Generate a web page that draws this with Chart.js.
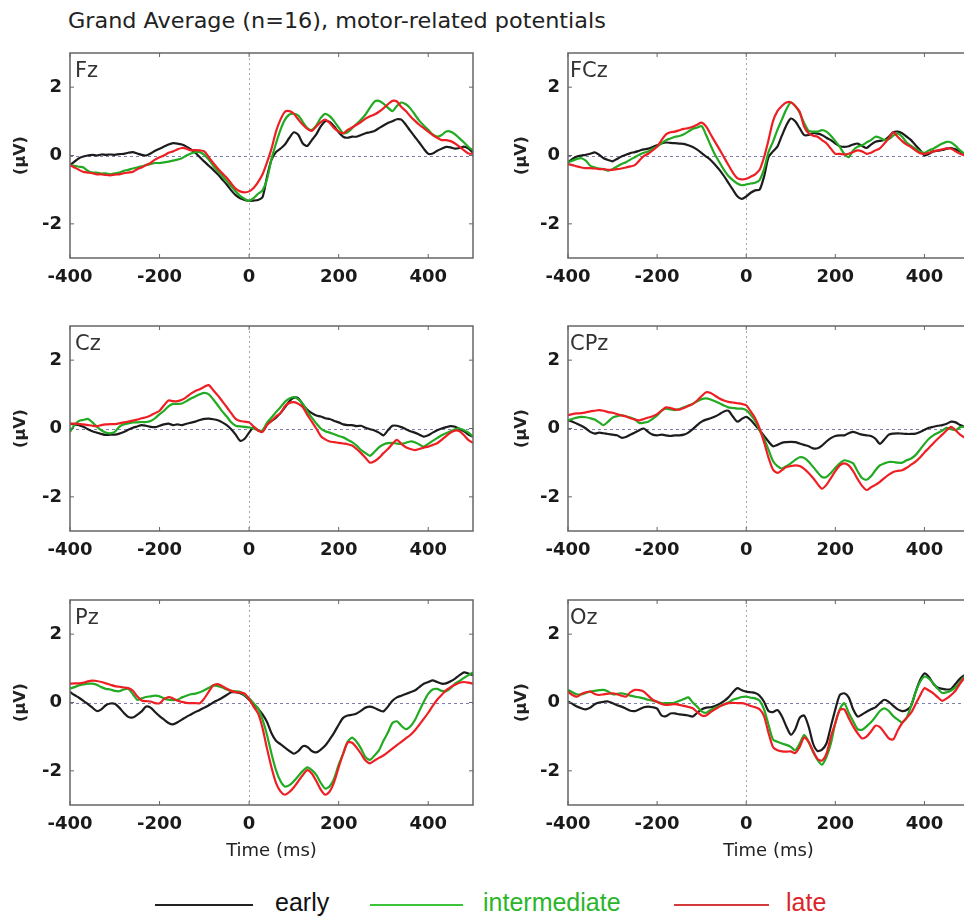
<!DOCTYPE html>
<html>
<head>
<meta charset="utf-8">
<title>Grand Average (n=16), motor-related potentials</title>
<script src="https://cdn.jsdelivr.net/npm/chart.js@4.4.1/dist/chart.umd.min.js"></script>
<style>
  html, body { margin:0; padding:0; background:#fff; }
  body { position:relative; width:964px; height:917px; overflow:hidden; font-family:"DejaVu Sans", sans-serif; }
  #title { position:absolute; left:68px; top:11px; font-size:21px; line-height:21px; color:#222; white-space:nowrap; transform:scaleX(1.063); transform-origin:0 0; }
  canvas { position:absolute; }
  .lg-line { position:absolute; height:0; border-top:2px solid; top:904px; }
  .lg-text { position:absolute; top:890px; font-family:"Liberation Sans", Arial, sans-serif; font-size:25px; line-height:25px; white-space:nowrap; }
</style>
</head>
<body>
<div id="title">Grand Average (n=16), motor-related potentials</div>
<canvas id="p0"></canvas>
<canvas id="p1"></canvas>
<canvas id="p2"></canvas>
<canvas id="p3"></canvas>
<canvas id="p4"></canvas>
<canvas id="p5"></canvas>
<div class="lg-line" style="left:155px;width:98px;border-color:#222"></div>
<div class="lg-text" style="left:275px;color:#111">early</div>
<div class="lg-line" style="left:370px;width:93px;border-color:#3cc43c"></div>
<div class="lg-text" style="left:483px;color:#2ab52a">intermediate</div>
<div class="lg-line" style="left:674px;width:95px;border-color:#d43a3a"></div>
<div class="lg-text" style="left:786px;color:#d9262b">late</div>
<script>
// ---- time axis (ms) ----
const times = [
  -400,-390,-380,-370,-360,-350,-340,-330,-320,-310,
  -300,-290,-280,-270,-260,-250,-240,-230,-220,-210,
  -200,-190,-180,-170,-160,-150,-140,-130,-120,-110,
  -100,-90,-80,-70,-60,-50,-40,-30,-20,-10,
  0,10,20,30,40,50,60,70,80,90,
  100,110,120,130,140,150,160,170,180,190,
  200,210,220,230,240,250,260,270,280,290,
  300,310,320,330,340,350,360,370,380,390,
  400,410,420,430,440,450,460,470,480,490,
  500
];
const xTicks = [-400, -200, 0, 200, 400];
const yTicks = [-2, 0, 2];
const channels = ['Fz', 'FCz', 'Cz', 'CPz', 'Pz', 'Oz'];
const seriesNames = ['early', 'intermediate', 'late'];

// ---- Fz ----
const fzEarly = [
  -0.28,-0.18,-0.08,-0.03,0.0,0.02,0.0,0.03,0.02,0.03,
  0.02,0.04,0.05,0.08,0.1,0.06,0.02,0.0,0.06,0.14,
  0.2,0.26,0.32,0.36,0.35,0.32,0.26,0.18,0.08,-0.05,
  -0.18,-0.3,-0.42,-0.55,-0.7,-0.85,-1.02,-1.16,-1.25,-1.3,
  -1.33,-1.32,-1.3,-1.22,-0.62,-0.12,0.1,0.2,0.32,0.52,
  0.68,0.6,0.35,0.28,0.45,0.62,0.85,1.0,0.98,0.85,
  0.68,0.55,0.52,0.55,0.55,0.6,0.65,0.68,0.72,0.8,
  0.88,0.95,1.0,1.06,1.05,0.9,0.72,0.55,0.38,0.2,
  0.05,0.06,0.14,0.2,0.25,0.24,0.2,0.22,0.26,0.2,
  0.08
];
const fzInter = [
  -0.28,-0.3,-0.33,-0.35,-0.45,-0.5,-0.5,-0.53,-0.52,-0.55,
  -0.52,-0.5,-0.45,-0.42,-0.38,-0.35,-0.32,-0.28,-0.25,-0.22,
  -0.22,-0.2,-0.18,-0.15,-0.12,-0.08,0.0,0.06,0.1,0.1,
  0.02,-0.12,-0.3,-0.45,-0.6,-0.75,-0.9,-1.05,-1.18,-1.27,
  -1.33,-1.25,-1.12,-1.02,-0.7,-0.1,0.35,0.75,1.05,1.2,
  1.22,1.17,0.98,0.8,0.75,0.88,1.1,1.22,1.15,1.0,
  0.82,0.65,0.68,0.8,0.92,1.05,1.2,1.4,1.58,1.6,
  1.52,1.4,1.3,1.45,1.55,1.5,1.38,1.2,1.02,0.88,
  0.75,0.62,0.55,0.6,0.7,0.7,0.62,0.5,0.38,0.25,
  0.15
];
const fzLate = [
  -0.28,-0.35,-0.42,-0.48,-0.5,-0.52,-0.55,-0.55,-0.57,-0.58,
  -0.56,-0.55,-0.52,-0.5,-0.48,-0.4,-0.35,-0.28,-0.22,-0.12,
  -0.05,0.0,0.08,0.12,0.18,0.22,0.2,0.15,0.16,0.15,
  0.12,-0.05,-0.22,-0.38,-0.52,-0.65,-0.82,-0.97,-1.05,-1.08,
  -1.05,-0.95,-0.78,-0.55,-0.2,0.2,0.7,1.05,1.28,1.3,
  1.22,1.05,0.9,0.78,0.72,0.85,0.98,1.05,0.95,0.8,
  0.7,0.65,0.75,0.82,0.9,0.98,1.08,1.15,1.2,1.28,
  1.38,1.5,1.6,1.58,1.42,1.3,1.15,1.02,0.9,0.8,
  0.7,0.6,0.52,0.45,0.45,0.42,0.35,0.25,0.15,0.06,
  0.05
];

// ---- FCz ----
const fczEarly = [
  -0.2,-0.1,-0.03,0.0,0.02,0.05,0.09,0.02,-0.08,-0.13,
  -0.17,-0.1,-0.03,0.02,0.07,0.1,0.14,0.18,0.2,0.25,
  0.3,0.35,0.38,0.37,0.36,0.35,0.34,0.3,0.25,0.17,
  0.07,-0.03,-0.13,-0.27,-0.42,-0.6,-0.8,-1.0,-1.19,-1.27,
  -1.2,-1.09,-1.02,-1.0,-0.62,-0.05,0.12,0.26,0.58,0.88,
  1.08,1.0,0.8,0.6,0.6,0.65,0.64,0.6,0.52,0.45,
  0.35,0.27,0.25,0.27,0.32,0.35,0.28,0.22,0.32,0.4,
  0.43,0.45,0.55,0.68,0.7,0.65,0.55,0.45,0.3,0.16,
  0.0,0.05,0.12,0.14,0.16,0.2,0.22,0.18,0.12,0.05,
  0.0
];
const fczInter = [
  -0.2,-0.15,-0.1,-0.08,-0.15,-0.3,-0.35,-0.38,-0.4,-0.44,
  -0.4,-0.32,-0.25,-0.2,-0.12,-0.05,0.02,0.08,0.12,0.2,
  0.26,0.36,0.45,0.5,0.55,0.57,0.62,0.7,0.78,0.82,
  0.86,0.6,0.3,0.02,-0.2,-0.42,-0.6,-0.72,-0.82,-0.87,
  -0.85,-0.82,-0.8,-0.72,-0.4,0.1,0.4,0.75,1.05,1.35,
  1.55,1.45,1.25,0.95,0.72,0.7,0.7,0.74,0.7,0.58,
  0.42,0.25,0.05,-0.05,0.15,0.26,0.3,0.38,0.45,0.55,
  0.52,0.45,0.48,0.58,0.65,0.55,0.38,0.28,0.2,0.12,
  0.08,0.15,0.2,0.28,0.35,0.4,0.38,0.28,0.15,0.05,
  0.0
];
const fczLate = [
  -0.25,-0.28,-0.32,-0.35,-0.37,-0.37,-0.38,-0.4,-0.4,-0.42,
  -0.42,-0.4,-0.38,-0.35,-0.32,-0.28,-0.15,-0.02,0.05,0.15,
  0.26,0.45,0.62,0.68,0.7,0.74,0.78,0.8,0.84,0.9,
  0.96,0.85,0.62,0.4,0.18,-0.05,-0.28,-0.5,-0.66,-0.7,
  -0.68,-0.62,-0.55,-0.42,-0.05,0.45,1.0,1.3,1.45,1.55,
  1.56,1.45,1.28,0.85,0.65,0.58,0.55,0.45,0.36,0.2,
  0.05,0.05,0.03,0.05,0.1,0.15,0.12,0.05,0.08,0.15,
  0.21,0.35,0.5,0.68,0.55,0.42,0.32,0.25,0.15,0.07,
  0.05,0.08,0.12,0.15,0.18,0.21,0.2,0.12,0.05,0.0,
  -0.02
];

// ---- Cz ----
const czEarly = [
  0.14,0.12,0.1,0.05,-0.02,-0.08,-0.12,-0.16,-0.19,-0.18,
  -0.18,-0.15,-0.1,-0.04,0.02,0.06,0.1,0.08,0.05,0.04,
  0.08,0.12,0.14,0.1,0.12,0.1,0.14,0.17,0.2,0.25,
  0.28,0.29,0.27,0.24,0.18,0.1,-0.02,-0.18,-0.36,-0.3,
  -0.12,0.04,-0.05,-0.08,0.12,0.22,0.32,0.45,0.62,0.8,
  0.9,0.88,0.7,0.55,0.45,0.38,0.35,0.3,0.28,0.22,
  0.18,0.12,0.1,0.1,0.07,0.08,0.02,-0.02,-0.06,-0.12,
  -0.2,-0.05,0.08,0.08,0.04,-0.02,-0.08,-0.12,-0.18,-0.24,
  -0.2,-0.12,-0.05,0.0,0.04,0.07,0.05,-0.02,-0.08,-0.18,
  -0.24
];
const czInter = [
  -0.1,0.1,0.22,0.25,0.28,0.18,0.05,-0.05,-0.12,-0.14,
  -0.1,0.05,0.12,0.15,0.18,0.18,0.19,0.19,0.22,0.3,
  0.42,0.52,0.65,0.72,0.72,0.73,0.8,0.88,0.94,1.0,
  1.04,1.0,0.85,0.68,0.5,0.35,0.18,0.08,0.06,0.05,
  0.03,0.0,-0.06,-0.05,0.17,0.32,0.48,0.62,0.78,0.88,
  0.92,0.85,0.72,0.5,0.32,0.15,0.0,-0.08,-0.12,-0.17,
  -0.22,-0.26,-0.33,-0.4,-0.5,-0.63,-0.72,-0.8,-0.68,-0.55,
  -0.47,-0.43,-0.42,-0.44,-0.45,-0.42,-0.38,-0.4,-0.47,-0.53,
  -0.45,-0.36,-0.28,-0.2,-0.14,-0.08,-0.02,0.0,-0.05,-0.12,
  -0.24
];
const czLate = [
  0.14,0.14,0.13,0.12,0.1,0.08,0.07,0.1,0.12,0.13,
  0.13,0.15,0.18,0.2,0.23,0.26,0.3,0.33,0.38,0.45,
  0.52,0.68,0.82,0.8,0.8,0.84,0.92,1.02,1.1,1.15,
  1.22,1.27,1.12,0.97,0.8,0.63,0.45,0.28,0.22,0.2,
  0.18,0.06,-0.06,-0.1,0.1,0.22,0.35,0.45,0.65,0.75,
  0.77,0.72,0.62,0.4,0.2,0.0,-0.22,-0.32,-0.38,-0.4,
  -0.42,-0.44,-0.46,-0.5,-0.6,-0.72,-0.86,-1.0,-0.96,-0.86,
  -0.72,-0.6,-0.45,-0.33,-0.45,-0.55,-0.6,-0.63,-0.6,-0.56,
  -0.53,-0.48,-0.43,-0.33,-0.22,-0.12,-0.06,-0.08,-0.2,-0.34,
  -0.42
];

// ---- CPz ----
const cpzEarly = [
  0.24,0.2,0.14,0.08,0.0,-0.1,-0.15,-0.12,-0.14,-0.16,
  -0.18,-0.2,-0.27,-0.25,-0.18,-0.12,-0.05,0.0,-0.1,-0.18,
  -0.2,-0.18,-0.2,-0.22,-0.2,-0.2,-0.18,-0.12,-0.02,0.1,
  0.2,0.26,0.3,0.35,0.42,0.5,0.52,0.35,0.2,0.28,
  0.34,0.25,0.1,-0.05,-0.22,-0.38,-0.52,-0.48,-0.42,-0.4,
  -0.39,-0.4,-0.44,-0.48,-0.52,-0.58,-0.58,-0.5,-0.38,-0.28,
  -0.22,-0.2,-0.2,-0.14,-0.1,-0.14,-0.18,-0.2,-0.22,-0.3,
  -0.45,-0.32,-0.18,-0.15,-0.14,-0.15,-0.16,-0.16,-0.15,-0.1,
  -0.04,0.02,0.05,0.08,0.1,0.14,0.2,0.18,0.1,0.05,
  0.02
];
const cpzInter = [
  0.24,0.28,0.32,0.34,0.33,0.3,0.26,0.18,0.1,0.2,
  0.32,0.36,0.39,0.36,0.32,0.27,0.16,0.17,0.2,0.28,
  0.38,0.52,0.58,0.56,0.54,0.57,0.62,0.67,0.72,0.8,
  0.86,0.88,0.85,0.8,0.74,0.67,0.62,0.6,0.58,0.58,
  0.54,0.4,0.22,-0.05,-0.3,-0.62,-0.95,-1.1,-1.17,-1.1,
  -1.02,-0.92,-0.84,-0.86,-0.97,-1.12,-1.28,-1.42,-1.42,-1.3,
  -1.15,-1.02,-0.93,-0.96,-1.02,-1.25,-1.45,-1.5,-1.4,-1.22,
  -1.08,-1.02,-0.98,-0.98,-1.0,-1.0,-0.93,-0.88,-0.78,-0.62,
  -0.45,-0.3,-0.2,-0.13,-0.06,0.02,-0.02,-0.05,0.04,0.05,
  0.02
];
const cpzLate = [
  0.39,0.42,0.44,0.45,0.47,0.5,0.52,0.54,0.52,0.48,
  0.46,0.42,0.38,0.35,0.3,0.26,0.24,0.28,0.32,0.36,
  0.42,0.52,0.62,0.6,0.56,0.55,0.6,0.66,0.72,0.82,
  0.95,1.06,1.04,0.96,0.88,0.82,0.78,0.76,0.74,0.72,
  0.68,0.5,0.3,0.0,-0.4,-0.85,-1.2,-1.3,-1.22,-1.13,
  -1.1,-1.08,-1.1,-1.18,-1.3,-1.45,-1.62,-1.76,-1.65,-1.45,
  -1.25,-1.08,-1.02,-1.08,-1.25,-1.48,-1.68,-1.8,-1.72,-1.65,
  -1.56,-1.45,-1.35,-1.27,-1.24,-1.22,-1.15,-1.06,-0.97,-0.85,
  -0.7,-0.57,-0.43,-0.3,-0.18,-0.05,0.05,-0.05,-0.18,-0.26,
  -0.3
];

// ---- Pz ----
const pzEarly = [
  0.31,0.22,0.14,0.05,-0.05,-0.15,-0.25,-0.2,-0.08,-0.03,
  -0.04,-0.15,-0.3,-0.42,-0.44,-0.36,-0.26,-0.12,-0.15,-0.28,
  -0.4,-0.5,-0.6,-0.64,-0.58,-0.5,-0.42,-0.35,-0.28,-0.22,
  -0.15,-0.08,0.0,0.07,0.14,0.22,0.3,0.3,0.27,0.2,
  0.08,-0.05,-0.18,-0.35,-0.57,-0.9,-1.12,-1.22,-1.32,-1.42,
  -1.5,-1.42,-1.28,-1.3,-1.42,-1.46,-1.38,-1.26,-1.08,-0.88,
  -0.65,-0.45,-0.38,-0.36,-0.32,-0.24,-0.15,-0.12,-0.16,-0.22,
  -0.26,-0.12,0.05,0.15,0.2,0.25,0.3,0.35,0.45,0.55,
  0.6,0.65,0.6,0.55,0.56,0.62,0.7,0.8,0.88,0.85,
  0.8
];
const pzInter = [
  0.41,0.45,0.5,0.53,0.55,0.55,0.52,0.45,0.4,0.38,
  0.34,0.33,0.38,0.4,0.25,0.08,0.12,0.16,0.18,0.2,
  0.18,0.12,0.08,0.07,0.08,0.15,0.2,0.24,0.26,0.3,
  0.36,0.43,0.5,0.48,0.44,0.38,0.34,0.33,0.31,0.22,
  0.12,-0.02,-0.18,-0.5,-0.95,-1.5,-1.98,-2.3,-2.46,-2.42,
  -2.3,-2.15,-2.0,-1.9,-1.98,-2.12,-2.35,-2.52,-2.45,-2.22,
  -1.82,-1.5,-1.15,-1.03,-1.15,-1.35,-1.6,-1.68,-1.55,-1.4,
  -1.12,-0.88,-0.6,-0.55,-0.68,-0.78,-0.7,-0.52,-0.25,0.02,
  0.25,0.38,0.4,0.34,0.33,0.42,0.55,0.63,0.72,0.8,
  0.88
];
const pzLate = [
  0.55,0.56,0.56,0.58,0.62,0.64,0.63,0.6,0.56,0.52,
  0.48,0.46,0.44,0.42,0.35,0.18,0.06,0.04,0.03,-0.02,
  -0.02,0.1,0.16,0.12,0.05,0.02,-0.01,-0.02,-0.02,-0.02,
  0.12,0.32,0.5,0.54,0.48,0.4,0.34,0.3,0.29,0.26,
  0.1,-0.12,-0.32,-0.75,-1.35,-1.9,-2.35,-2.6,-2.7,-2.62,
  -2.48,-2.3,-2.12,-1.98,-2.08,-2.3,-2.55,-2.7,-2.6,-2.32,
  -1.9,-1.5,-1.17,-1.18,-1.32,-1.5,-1.7,-1.78,-1.7,-1.62,
  -1.55,-1.45,-1.35,-1.25,-1.15,-1.05,-0.95,-0.82,-0.65,-0.48,
  -0.3,-0.1,0.08,0.22,0.36,0.45,0.52,0.58,0.6,0.58,
  0.55
];

// ---- Oz ----
const ozEarly = [
  0.03,-0.04,-0.12,-0.17,-0.2,-0.15,-0.05,0.0,0.02,0.03,
  -0.02,-0.08,-0.12,-0.18,-0.24,-0.25,-0.2,-0.14,-0.12,-0.14,
  -0.18,-0.38,-0.4,-0.32,-0.32,-0.35,-0.36,-0.38,-0.41,-0.3,
  -0.2,-0.15,-0.14,-0.1,-0.04,0.04,0.15,0.3,0.42,0.36,
  0.32,0.3,0.28,0.2,0.02,-0.25,-0.28,-0.22,-0.4,-0.7,
  -0.94,-0.78,-0.45,-0.38,-0.7,-1.2,-1.42,-1.38,-1.2,-0.7,
  -0.2,0.22,0.27,0.15,-0.2,-0.41,-0.35,-0.27,-0.2,-0.14,
  -0.02,0.08,0.02,-0.1,-0.2,-0.25,-0.22,-0.1,0.3,0.65,
  0.85,0.75,0.55,0.43,0.4,0.38,0.4,0.55,0.7,0.8,
  0.85
];
const ozInter = [
  0.37,0.3,0.24,0.24,0.28,0.32,0.34,0.36,0.37,0.32,
  0.24,0.25,0.27,0.24,0.2,0.17,0.15,0.12,0.08,0.05,
  0.02,-0.02,-0.02,-0.02,0.0,0.05,0.1,0.15,0.0,-0.12,
  -0.26,-0.3,-0.22,-0.15,-0.1,-0.06,0.0,0.08,0.12,0.16,
  0.17,0.14,0.12,0.05,-0.2,-0.65,-1.08,-1.15,-1.2,-1.24,
  -1.3,-1.4,-1.2,-0.95,-1.15,-1.45,-1.68,-1.82,-1.6,-1.2,
  -0.6,-0.2,-0.02,-0.3,-0.55,-0.78,-0.8,-0.7,-0.58,-0.42,
  -0.25,-0.17,-0.25,-0.4,-0.5,-0.58,-0.45,-0.1,0.3,0.6,
  0.76,0.7,0.56,0.4,0.28,0.3,0.35,0.45,0.6,0.76,
  0.85
];
const ozLate = [
  0.32,0.22,0.17,0.25,0.3,0.32,0.25,0.22,0.24,0.26,
  0.27,0.24,0.2,0.17,0.3,0.37,0.36,0.32,0.2,0.08,
  0.02,-0.04,-0.07,-0.06,-0.05,-0.07,-0.1,-0.13,-0.17,-0.28,
  -0.38,-0.38,-0.28,-0.2,-0.12,-0.06,-0.02,-0.01,-0.02,-0.02,
  -0.05,-0.1,-0.14,-0.2,-0.4,-0.89,-1.3,-1.4,-1.43,-1.44,
  -1.43,-1.48,-1.3,-1.02,-1.15,-1.42,-1.65,-1.7,-1.5,-1.0,
  -0.6,-0.22,-0.2,-0.45,-0.7,-0.9,-1.05,-1.0,-0.85,-0.68,
  -0.72,-0.88,-1.05,-1.08,-0.82,-0.6,-0.45,-0.3,-0.05,0.2,
  0.42,0.35,0.27,0.15,0.05,0.12,0.22,0.35,0.55,0.72,
  0.8
];

const panelData = [
  [fzEarly, fzInter, fzLate],
  [fczEarly, fczInter, fczLate],
  [czEarly, czInter, czLate],
  [cpzEarly, cpzInter, cpzLate],
  [pzEarly, pzInter, pzLate],
  [ozEarly, ozInter, ozLate]
];

// ---- styling / layout (kept separate from data) ----
const COLORS = ['#1c1c1c', '#22aa22', '#ee1f24'];
const ORDER = [2, 1, 0]; // late drawn on top
const COLS = [
  { left: 0,   plotW: 403, titlePad: 11, labelDx: 5 },
  { left: 498, plotW: 401, titlePad: 14, labelDx: 2 }
];
const ROWS = [
  { top: 33,  xh: 40, xTitle: false },
  { top: 306, xh: 40, xTitle: false },
  { top: 580, xh: 66, xTitle: true }
];
const PAD_TOP = 20, PLOT_H = 205, YAXIS_W = 70, PAD_RIGHT = 10;

Chart.defaults.font.family = '"DejaVu Sans", sans-serif';

const framePlugin = {
  id: 'frame',
  beforeDatasetsDraw(chart) {
    const { ctx, chartArea: a, scales: { x, y } } = chart;
    ctx.save();
    ctx.lineWidth = 1;
    ctx.setLineDash([3, 3]);
    ctx.strokeStyle = '#8080b0';
    const y0 = Math.round(y.getPixelForValue(0)) + 0.5;
    ctx.beginPath(); ctx.moveTo(a.left, y0); ctx.lineTo(a.right, y0); ctx.stroke();
    ctx.setLineDash([2, 3]);
    ctx.strokeStyle = '#a8a8a8';
    const x0 = Math.round(x.getPixelForValue(0)) + 0.5;
    ctx.beginPath(); ctx.moveTo(x0, a.top); ctx.lineTo(x0, a.bottom); ctx.stroke();
    ctx.restore();
  },
  afterDatasetsDraw(chart, args, opts) {
    const { ctx, chartArea: a, scales: { x, y } } = chart;
    ctx.save();
    ctx.strokeStyle = '#666';
    ctx.lineWidth = 1.5;
    ctx.strokeRect(a.left, a.top, a.right - a.left, a.bottom - a.top);
    ctx.lineWidth = 1;
    ctx.beginPath();
    xTicks.forEach(v => {
      const px = x.getPixelForValue(v);
      ctx.moveTo(px, a.bottom); ctx.lineTo(px, a.bottom - 4);
      ctx.moveTo(px, a.top); ctx.lineTo(px, a.top + 4);
    });
    yTicks.forEach(v => {
      const py = y.getPixelForValue(v);
      ctx.moveTo(a.left, py); ctx.lineTo(a.left + 4, py);
      ctx.moveTo(a.right, py); ctx.lineTo(a.right - 4, py);
    });
    ctx.stroke();
    ctx.fillStyle = '#333';
    ctx.font = '21px "DejaVu Sans"';
    ctx.textBaseline = 'alphabetic';
    ctx.textAlign = 'left';
    ctx.fillText(opts.label, a.left + opts.dx, a.top + 24);
    ctx.restore();
  }
};

channels.forEach((name, i) => {
  const col = COLS[i % 2];
  const row = ROWS[Math.floor(i / 2)];
  const cv = document.getElementById('p' + i);
  cv.width = YAXIS_W + col.plotW + PAD_RIGHT;
  cv.height = PAD_TOP + PLOT_H + row.xh;
  cv.style.left = col.left + 'px';
  cv.style.top = row.top + 'px';
  cv.style.width = cv.width + 'px';
  cv.style.height = cv.height + 'px';

  const datasets = panelData[i].map((vals, k) => ({
    label: seriesNames[k],
    data: times.map((t, j) => ({ x: t, y: vals[j] })),
    borderColor: COLORS[k],
    backgroundColor: COLORS[k],
    borderWidth: 2.2,
    pointRadius: 0,
    tension: 0.25,
    order: ORDER[k],
    fill: false
  }));

  new Chart(cv, {
    type: 'line',
    data: { datasets },
    options: {
      responsive: false,
      animation: false,
      devicePixelRatio: 1,
      layout: { padding: { left: 0, right: PAD_RIGHT, top: PAD_TOP, bottom: 0 } },
      plugins: {
        legend: { display: false },
        tooltip: { enabled: false },
        frame: { label: name, dx: col.labelDx }
      },
      scales: {
        x: {
          type: 'linear',
          min: -400, max: 500,
          afterBuildTicks: s => { s.ticks = xTicks.map(v => ({ value: v })); },
          afterFit: s => { s.height = row.xh; },
          grid: { display: false, drawTicks: false },
          border: { display: false },
          ticks: {
            padding: 9, maxRotation: 0, autoSkip: false,
            color: '#1a1a1a', font: { size: 18, weight: 'bold' },
            callback: v => String(v)
          },
          title: {
            display: row.xTitle, text: 'Time (ms)', color: '#222',
            font: { size: 18 }, padding: { top: 0, bottom: 9 }
          }
        },
        y: {
          type: 'linear',
          min: -3, max: 3,
          afterBuildTicks: s => { s.ticks = yTicks.map(v => ({ value: v })); },
          afterFit: s => { s.width = YAXIS_W; },
          grid: { display: false, drawTicks: false },
          border: { display: false },
          ticks: { padding: 8, color: '#1a1a1a', font: { size: 18, weight: 'bold' }, callback: v => String(v) },
          title: {
            display: true, text: '(µV)', color: '#222',
            font: { size: 16, weight: 'bold' }, padding: { top: col.titlePad, bottom: 0 }
          }
        }
      }
    },
    plugins: [framePlugin]
  });
});
</script>
</body>
</html>
